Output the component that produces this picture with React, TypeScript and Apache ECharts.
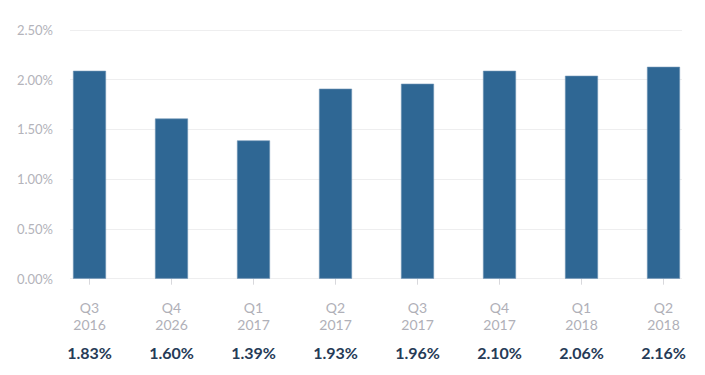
import React, { useEffect, useRef } from "react";
import * as echarts from "echarts";

const quarters = ["Q3\n2016", "Q4\n2026", "Q1\n2017", "Q2\n2017", "Q3\n2017", "Q4\n2017", "Q1\n2018", "Q2\n2018"];
const barValues = [2.09, 1.61, 1.39, 1.91, 1.96, 2.09, 2.04, 2.13];
const rateLabels = ["1.83%", "1.60%", "1.39%", "1.93%", "1.96%", "2.10%", "2.06%", "2.16%"];
const yTicks = [0, 0.5, 1, 1.5, 2, 2.5];

export default function App() {
  const ref = useRef<HTMLDivElement>(null);
  useEffect(() => {
    if (!ref.current) return;
    const chart = echarts.init(ref.current, null, { renderer: "svg" });
    const font = "Lato, 'Open Sans', sans-serif";
    const top = 30;
    const bottom = 96.3;
    chart.setOption({
      animation: false,
      backgroundColor: "#ffffff",
      grid: [
        { left: 70, right: 23, top, bottom },
        { left: 48.5, right: 0.5, top, bottom },
      ],
      xAxis: [
        { type: "category", gridIndex: 0, data: quarters, show: false },
        {
          type: "category",
          gridIndex: 1,
          data: quarters,
          offset: 8,
          axisLine: { show: false },
          axisTick: { show: true, alignWithLabel: true, length: 6, lineStyle: { color: "#d8d8dc" } },
          axisLabel: { margin: 12, color: "#b0b0b8", fontSize: 14, lineHeight: 17, fontFamily: font },
        },
        {
          type: "category",
          gridIndex: 1,
          position: "bottom",
          data: rateLabels,
          offset: 60,
          axisLine: { show: false },
          axisTick: { show: false },
          axisLabel: { margin: 6, color: "#263b57", fontSize: 16, fontWeight: "bold", fontFamily: font },
        },
      ],
      yAxis: [
        {
          type: "value",
          gridIndex: 0,
          min: yTicks[0],
          max: yTicks[yTicks.length - 1],
          interval: 0.5,
          axisLine: { show: false },
          axisTick: { show: false },
          splitLine: { lineStyle: { color: "#eeeeef", width: 1 } },
          axisLabel: {
            margin: 17,
            color: "#b3b3ba",
            fontSize: 13,
            fontFamily: font,
            padding: [0, 0, 8, 0],
            formatter: (v: number) => v.toFixed(2) + "%",
          },
        },
        { type: "value", gridIndex: 1, min: 0, max: 2.5, show: false },
      ],
      series: [
        {
          type: "bar",
          xAxisIndex: 1,
          yAxisIndex: 1,
          data: barValues,
          barWidth: 33,
          itemStyle: { color: "#2f6794", borderColor: "#6f93b5", borderWidth: 0.6 },
        },
      ],
    });
    return () => chart.dispose();
  }, []);
  return <div ref={ref} style={{ position: "absolute", left: 0, top: 0, width: 705, height: 375 }} />;
}
